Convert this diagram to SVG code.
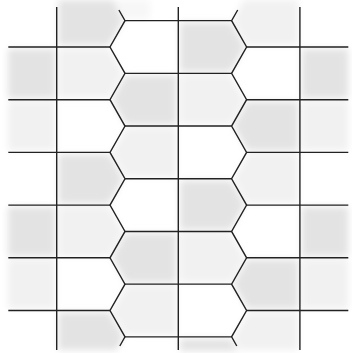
<svg xmlns="http://www.w3.org/2000/svg" width="352" height="353" viewBox="0 0 352 353">
<defs>
<filter id="soft" x="-20%" y="-20%" width="140%" height="140%"><feGaussianBlur stdDeviation="3.5"/></filter>
<style>
.m{fill:#e3e3e3}
.l{fill:#f1f1f1}
.ln{fill:none;stroke:#222222;stroke-width:1.4;stroke-linejoin:miter}
</style>
</defs>
<rect width="352" height="353" fill="#ffffff"/>
<g id="shading" filter="url(#soft)">
<!-- column A -->
<rect class="m" x="8" y="49" width="47" height="49"/>
<rect class="m" x="8" y="207" width="47" height="49"/>
<rect class="l" x="8" y="101.5" width="47" height="49"/>
<rect class="l" x="8" y="259.5" width="47" height="49"/>
<!-- column B -->
<polygon class="m" points="58.5,0 113,0 123,20.65 109,45 58.5,45"/>
<polygon class="m" points="58.5,154.3 109,154.3 123,178.75 109,203.2 58.5,203.2"/>
<polygon class="m" points="58.5,312.4 109,312.4 123,336.85 116.5,350 58.5,350"/>
<polygon class="l" points="58.5,49 109,49 123,73.35 109,97.8 58.5,97.8"/>
<polygon class="l" points="58.5,207 109,207 123,231.45 109,255.9 58.5,255.9"/>
<!-- column C -->
<polygon class="m" points="126,75.2 176.5,75.2 176.5,124.2 126,124.2 112,99.7"/>
<polygon class="m" points="126,233.3 176.5,233.3 176.5,282.3 126,282.3 112,257.8"/>
<polygon class="l" points="126,127.9 176.5,127.9 176.5,176.9 126,176.9 112,152.4"/>
<polygon class="l" points="126,286 176.5,286 176.5,335 126,335 112,310.5"/>
<polygon class="l" points="113.3,0 150,0 150,19 125,19" opacity="0.6"/>
<!-- column D -->
<polygon class="m" points="180.1,22.5 230.6,22.5 244.6,47 230.6,71.5 180.1,71.5"/>
<polygon class="m" points="180.1,180.6 230.6,180.6 244.6,205.1 230.6,229.6 180.1,229.6"/>
<polygon class="m" points="180.1,338.7 230.6,338.7 238.1,351 180.1,351"/>
<polygon class="l" points="180.1,75.2 230.6,75.2 244.6,99.7 230.6,124.2 180.1,124.2"/>
<polygon class="l" points="180.1,233.3 230.6,233.3 244.6,257.8 230.6,282.3 180.1,282.3"/>
<!-- column E -->
<polygon class="m" points="247.6,101.5 298.1,101.5 298.1,150.5 247.6,150.5 233.6,126.05"/>
<polygon class="m" points="247.6,259.6 298.1,259.6 298.1,308.6 247.6,308.6 233.6,284.15"/>
<polygon class="l" points="243.3,0 298.1,0 298.1,45 247.6,45 233.6,20.65"/>
<polygon class="l" points="247.6,154.3 298.1,154.3 298.1,203.2 247.6,203.2 233.6,178.75"/>
<polygon class="l" points="247.6,312.4 298.1,312.4 298.1,350 240.1,350 233.6,336.85"/>
<!-- column F -->
<rect class="m" x="301.7" y="49" width="46.5" height="49"/>
<rect class="m" x="301.7" y="207" width="46.5" height="49"/>
<rect class="l" x="301.7" y="101.5" width="46.5" height="49"/>
<rect class="l" x="301.7" y="259.5" width="46.5" height="49"/>
</g>
<g id="grid" class="ln">
<path class="ln" d="M56.7,7 V350 M178.3,7 V350 M299.9,7 V350"/>
<path class="ln" d="M118.9,10 L125,20.65 L110,47 L125,73.35 L110,99.7 L125,126.05 L110,152.4 L125,178.75 L110,205.1 L125,231.45 L110,257.8 L125,284.15 L110,310.5 L125,336.85 L119.8,346"/>
<path class="ln" d="M237.7,10 L231.6,20.65 L246.6,47 L231.6,73.35 L246.6,99.7 L231.6,126.05 L246.6,152.4 L231.6,178.75 L246.6,205.1 L231.6,231.45 L246.6,257.8 L231.6,284.15 L246.6,310.5 L231.6,336.85 L236.8,346"/>
<path class="ln" d="M8.3,47 H110 M8.3,99.7 H110 M8.3,152.4 H110 M8.3,205.1 H110 M8.3,257.8 H110 M8.3,310.5 H110"/>
<path class="ln" d="M246.6,47 H348.3 M246.6,99.7 H348.3 M246.6,152.4 H348.3 M246.6,205.1 H348.3 M246.6,257.8 H348.3 M246.6,310.5 H348.3"/>
<path class="ln" d="M125,20.65 H231.6 M125,73.35 H231.6 M125,126.05 H231.6 M125,178.75 H231.6 M125,231.45 H231.6 M125,284.15 H231.6 M125,336.85 H231.6"/>
</g>
</svg>
